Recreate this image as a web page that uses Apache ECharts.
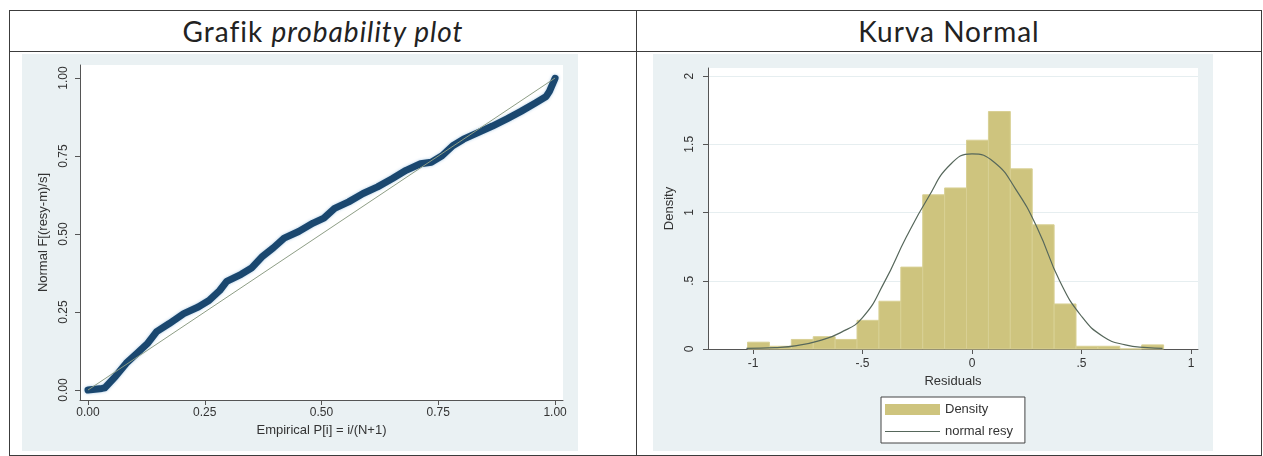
<!DOCTYPE html>
<html>
<head>
<meta charset="utf-8">
<script src="https://cdn.jsdelivr.net/npm/echarts@6/dist/echarts.min.js"></script>
<style>
    html, body { margin: 0; padding: 0; background: #ffffff; }
    #page { position: relative; width: 1263px; height: 456px; overflow: hidden; }
    .box { position: absolute; left: 9px; top: 10px; width: 1251px; height: 444px; border: 1px solid #3c3c3c; }
    .hline { position: absolute; left: 9px; top: 51px; width: 1253px; height: 1px; background: #3c3c3c; }
    .vline { position: absolute; left: 636px; top: 10px; width: 1px; height: 446px; background: #3c3c3c; }
    .head { position: absolute; top: 13px; height: 36px; line-height: 36px; text-align: center;
            font-family: Lato, "Open Sans", sans-serif; font-size: 28px; letter-spacing: 1px; color: #222; }
    #chart-pp { position: absolute; left: 22px; top: 54px; width: 556px; height: 397px; }
    #chart-hist { position: absolute; left: 653px; top: 54px; width: 560px; height: 397px; }
</style>
</head>
<body>
<div id="page">
    <div class="box"></div>
    <div class="hline"></div>
    <div class="vline"></div>
    <div class="head" style="left:10px;width:626px;">Grafik <i>probability plot</i></div>
    <div class="head" style="left:637px;width:624px;">Kurva Normal</div>
    <div id="chart-pp"></div>
    <div id="chart-hist"></div>
</div>
<script>
// probability plot: empirical P vs normal F
const ppEmpirical = [0, 0.03, 0.036, 0.059, 0.082, 0.105, 0.128, 0.147, 0.174, 0.205, 0.236, 0.259, 0.282, 0.297,
    0.328, 0.351, 0.374, 0.397, 0.42, 0.451, 0.482, 0.505, 0.528, 0.558, 0.589, 0.62, 0.651, 0.681, 0.712,
    0.735, 0.758, 0.781, 0.804, 0.835, 0.866, 0.897, 0.927, 0.958, 0.981, 0.988, 0.994, 1.0];
const ppNormal = [0.0, 0.005, 0.007, 0.044, 0.086, 0.118, 0.15, 0.187, 0.213, 0.245, 0.266, 0.287, 0.319, 0.348,
    0.371, 0.392, 0.429, 0.456, 0.487, 0.508, 0.535, 0.551, 0.582, 0.603, 0.63, 0.651, 0.677, 0.704, 0.725,
    0.73, 0.751, 0.783, 0.804, 0.825, 0.846, 0.869, 0.893, 0.92, 0.941, 0.957, 0.978, 0.999];
const ppTicks = [0, 0.25, 0.5, 0.75, 1];

// histogram of residuals
const binEdges = [-1.025, -0.925, -0.825, -0.725, -0.625, -0.525, -0.425, -0.325, -0.225, -0.125, -0.025,
    0.075, 0.175, 0.275, 0.375, 0.475, 0.575, 0.675, 0.775, 0.875];
const densities = [0.05, 0.02, 0.07, 0.09, 0.07, 0.21, 0.35, 0.60, 1.13, 1.18, 1.53, 1.74, 1.32, 0.91, 0.33,
    0.02, 0.02, 0, 0.03];
const curveX = [-1.03, -0.9, -0.8, -0.7, -0.6, -0.5, -0.4, -0.3, -0.2, -0.1, 0, 0.1, 0.2, 0.3, 0.4, 0.5, 0.6,
    0.7, 0.8, 0.87];
const curveY = [0.004, 0.01, 0.025, 0.06, 0.12, 0.23, 0.49, 0.82, 1.11, 1.35, 1.43, 1.37, 1.17, 0.88, 0.5,
    0.24, 0.09, 0.03, 0.01, 0.005];
const histXTicks = [-1, -0.5, 0, 0.5, 1];
const histYTicks = [0, 0.5, 1, 1.5, 2];

const stataBg = '#eaf1f3';
const axisColor = '#555';
const fontFamily = 'Liberation Sans, Arial, sans-serif';
const tickFont = { fontFamily: fontFamily, fontSize: 12, color: '#333' };
const titleFont = { fontFamily: fontFamily, fontSize: 13, color: '#333' };

function stataNum(v) {
    // Stata drops the leading zero: .5, -.5
    let s = String(v);
    return s.replace(/^0\./, '.').replace(/^-0\./, '-.');
}

function initProbPlot() {
    const chart = echarts.init(document.getElementById('chart-pp'));
    const option = {
        animation: false,
        backgroundColor: stataBg,
        grid: { left: 58, top: 11, width: 483, height: 335, show: true, backgroundColor: '#fff', borderWidth: 0 },
        xAxis: {
            type: 'value', min: -0.0171, max: 1.017,
            name: 'Empirical P[i] = i/(N+1)', nameLocation: 'middle', nameGap: 24,
            nameTextStyle: titleFont,
            axisLine: { onZero: false, lineStyle: { color: axisColor } },
            axisTick: { length: 5, customValues: ppTicks, lineStyle: { color: axisColor } },
            axisLabel: Object.assign({ customValues: ppTicks, margin: 7, formatter: v => v.toFixed(2) }, tickFont),
            splitLine: { show: false }
        },
        yAxis: {
            type: 'value', min: -0.032, max: 1.0417,
            name: 'Normal F[(resy-m)/s]', nameLocation: 'middle', nameGap: 26,
            nameTextStyle: titleFont,
            axisLine: { show: true, onZero: false, lineStyle: { color: axisColor } },
            axisTick: { show: true, length: 5, customValues: ppTicks, lineStyle: { color: axisColor } },
            axisLabel: Object.assign({ customValues: ppTicks, rotate: 90, margin: 10, formatter: v => v.toFixed(2) }, tickFont),
            splitLine: { show: false }
        },
        series: [
            {
                type: 'line',
                data: [[0, 0], [1, 1]],
                symbol: 'none',
                lineStyle: { color: '#8e9e86', width: 1 },
                z: 3
            },
            {
                type: 'line',
                data: ppEmpirical.map((x, i) => [x, ppNormal[i]]),
                symbol: 'none',
                lineStyle: { color: '#1a476f', width: 7, cap: 'round', join: 'round',
                    shadowColor: 'rgba(60,130,190,0.45)', shadowBlur: 3 },
                z: 2
            }
        ]
    };
    chart.setOption(option);
}

function initHistogram() {
    const chart = echarts.init(document.getElementById('chart-hist'));
    const bars = densities.map((d, i) => [binEdges[i], binEdges[i + 1], d]);
    const option = {
        animation: false,
        backgroundColor: stataBg,
        grid: { left: 55, top: 14, width: 490, height: 281, show: true, backgroundColor: '#fff', borderWidth: 0 },
        legend: {
            left: 228, top: 343, orient: 'vertical',
            backgroundColor: '#fff', borderColor: '#444', borderWidth: 1,
            padding: [6, 12, 5, 4], itemGap: 9, itemWidth: 55, itemHeight: 11,
            symbolKeepAspect: true,
            textStyle: { fontFamily: fontFamily, fontSize: 13, color: '#333' },
            data: [
                { name: 'Density', icon: 'rect' },
                { name: 'normal resy', icon: 'path://M0,0 L200,0 L200,4 L0,4 Z' }
            ]
        },
        xAxis: {
            type: 'value', min: -1.2055, max: 1.032,
            name: 'Residuals', nameLocation: 'middle', nameGap: 26,
            nameTextStyle: titleFont,
            axisLine: { onZero: false, lineStyle: { color: axisColor } },
            axisTick: { length: 5, customValues: histXTicks, lineStyle: { color: axisColor } },
            axisLabel: Object.assign({ customValues: histXTicks, margin: 9, formatter: stataNum }, tickFont),
            splitLine: { show: false }
        },
        yAxis: {
            type: 'value', min: 0, max: 2.059, interval: 0.5,
            name: 'Density', nameLocation: 'middle', nameGap: 25,
            nameTextStyle: titleFont,
            axisLine: { show: true, onZero: false, lineStyle: { color: axisColor } },
            axisTick: { show: true, length: 5, customValues: histYTicks, lineStyle: { color: axisColor } },
            axisLabel: Object.assign({ customValues: histYTicks, rotate: 90, margin: 12, formatter: stataNum }, tickFont),
            splitLine: { show: true, lineStyle: { color: '#e6eef0', width: 1 } }
        },
        series: [
            {
                name: 'Density',
                type: 'custom',
                itemStyle: { color: '#cec47e' },
                encode: { x: [0, 1], y: 2 },
                data: bars,
                renderItem: (params, api) => {
                    const topLeft = api.coord([api.value(0), api.value(2)]);
                    const bottomRight = api.coord([api.value(1), 0]);
                    return {
                        type: 'rect',
                        shape: {
                            x: topLeft[0], y: topLeft[1],
                            width: bottomRight[0] - topLeft[0],
                            height: bottomRight[1] - topLeft[1]
                        },
                        style: { fill: '#cec47e', stroke: '#d8d094', lineWidth: 1 }
                    };
                }
            },
            {
                name: 'normal resy',
                type: 'line',
                smooth: true,
                symbol: 'none',
                data: curveX.map((x, i) => [x, curveY[i]]),
                itemStyle: { color: '#56675b' },
                lineStyle: { color: '#56675b', width: 1.2 }
            }
        ]
    };
    chart.setOption(option);
}

initProbPlot();
initHistogram();
</script>
</body>
</html>
